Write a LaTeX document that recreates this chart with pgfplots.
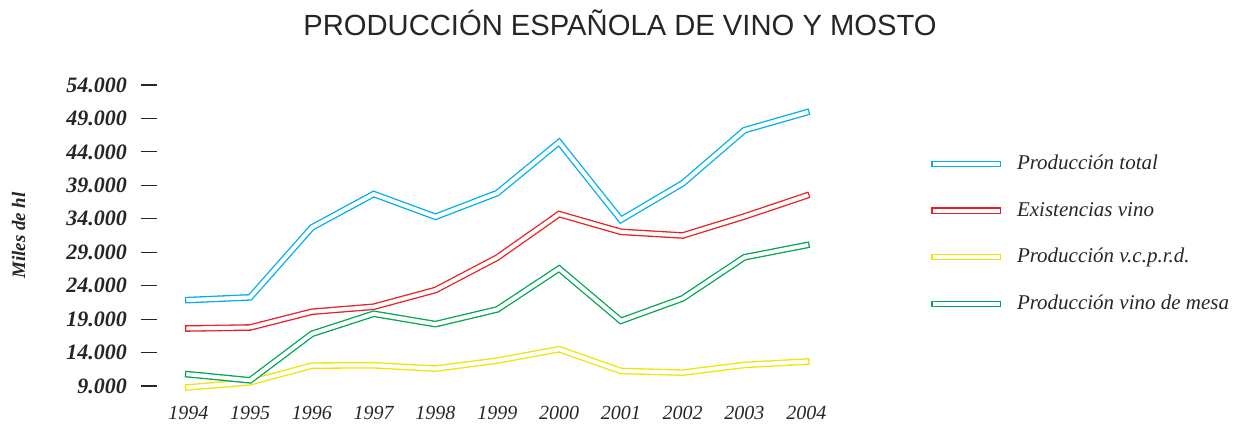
\documentclass[border=0pt]{standalone}
\usepackage{fontspec}
\setmainfont{Liberation Serif}
\newfontfamily\titlefont{Liberation Sans}
\usepackage{pgfplots}
\pgfplotsset{compat=1.18}
\usepackage{pgfplotstable}

\definecolor{cTotal}{RGB}{0,174,239}
\definecolor{cExist}{RGB}{237,28,36}
\definecolor{cVcprd}{RGB}{240,228,0}
\definecolor{cMesa}{RGB}{0,166,81}

% miles de hl
\pgfplotstableread{
year total exist vcprd mesa
1994 21850 17600  8800 10750
1995 22250 17750  9550  9850
1996 32700 20100 12050 16800
1997 37700 20850 12100 19800
1998 34300 23350 11600 18250
1999 37850 28200 12800 20450
2000 45450 34700 14500 26550
2001 33850 32050 11250 18750
2002 39300 31500 11000 22100
2003 47250 34350 12150 28250
2004 49900 37450 12650 30050
}\datos

\tikzset{
  hueca/.style={draw=#1, double=white, line width=0.65pt,
                double distance=2.0pt, line cap=rect, line join=miter}
}

\begin{document}
\begin{tikzpicture}
\begin{axis}[
  at={(0,0)}, anchor=south west,
  scale only axis,
  width=339.9pt, height=150.5pt,
  xmin=1993.5, xmax=2004.5,
  ymin=9000, ymax=54000,
  scaled y ticks=false,
  axis line style={draw=none},
  xtick={1994,1995,1996,1997,1998,1999,2000,2001,2002,2003,2004},
  xticklabels={1994,1995,1996,1997,1998,1999,2000,2001,2002,2003,2004},
  ytick={9000,14000,19000,24000,29000,34000,39000,44000,49000,54000},
  yticklabels={9.000,14.000,19.000,24.000,29.000,34.000,39.000,44.000,49.000,54.000},
  ytick pos=left,
  tick align=outside,
  major tick length=8pt,
  xtick style={draw=none},
  ytick style={draw=black!85, line width=0.6pt},
  xticklabel style={font=\fontsize{10}{12}\selectfont\itshape, text=black!85, yshift=1.5pt},
  yticklabel style={font=\fontsize{11}{13}\selectfont\bfseries\itshape, text=black!85, xshift=-3.8pt},
  ylabel={Miles de hl},
  ylabel style={font=\fontsize{9.5}{11}\selectfont\bfseries\itshape, text=black!85,
                at={(axis description cs:-0.204,0.5)}, anchor=center},
  title={PRODUCCIÓN ESPAÑOLA DE VINO Y MOSTO},
  title style={font=\titlefont\fontsize{14.6}{17}\selectfont, text=black!85,
               at={(axis description cs:0.6805,1.126)}, anchor=base},
  legend style={at={(axis description cs:1.138,0.505)}, anchor=west,
                draw=none, fill=none, inner sep=0pt, row sep=10.6pt,
                column sep=6pt,
                font=\fontsize{10.5}{12}\selectfont\itshape, text=black!85,
                cells={anchor=west}},
  legend image code/.code={\draw[#1] (0pt,0pt) -- (31.5pt,0pt);},
  clip=false,
]
\addplot[hueca=cTotal] table[x=year, y=total] {\datos};
\addlegendentry{Producción total}
\addplot[hueca=cExist] table[x=year, y=exist] {\datos};
\addlegendentry{Existencias vino}
\addplot[hueca=cVcprd] table[x=year, y=vcprd] {\datos};
\addlegendentry{Producción v.c.p.r.d.}
\addplot[hueca=cMesa] table[x=year, y=mesa] {\datos};
\addlegendentry{Producción vino de mesa}
\end{axis}
\pgfresetboundingbox
\path (-78.7pt,-19.5pt) rectangle (540.8pt,193pt);
\end{tikzpicture}
\end{document}
